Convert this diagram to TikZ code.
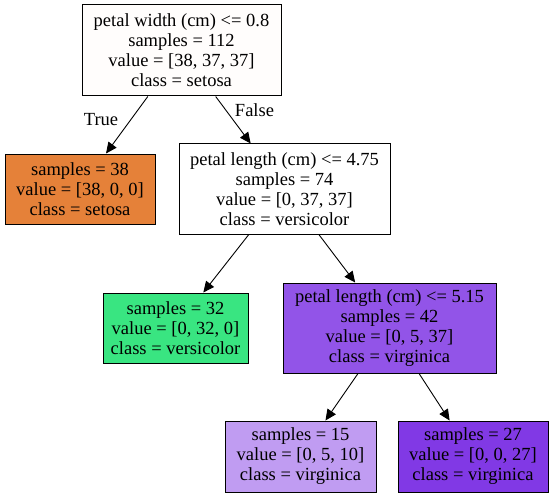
\documentclass[tikz,border=0pt]{standalone}
\usepackage{fontspec}
\setmainfont{Liberation Serif}
\usetikzlibrary{arrows.meta}
\definecolor{croot}{HTML}{FFFDFC}
\definecolor{csetosa}{HTML}{E58139}
\definecolor{cmid}{HTML}{FFFFFF}
\definecolor{cvers}{HTML}{39E581}
\definecolor{cvirgA}{HTML}{9254E8}
\definecolor{cvirgB}{HTML}{C09CF2}
\definecolor{cvirgC}{HTML}{8139E5}
\begin{document}
\begin{tikzpicture}[x=1pt,y=-1pt,
  box/.style={draw=black, line width=1pt, inner sep=0pt, align=center,
    font=\fontsize{18.5}{20}\selectfont},
  edge/.style={line width=0.9pt, -{Triangle[length=11pt,width=10pt]}},
  lbl/.style={font=\fontsize{18.5}{20}\selectfont, inner sep=0pt}]
\useasboundingbox (0,0) rectangle (553,497);
\node[box, fill=croot, minimum width=199pt, minimum height=91pt] (root) at (181.5,50.5)
  {petal width (cm) <= 0.8\\samples = 112\\value = [38, 37, 37]\\class = setosa};
\node[box, fill=csetosa, minimum width=150pt, minimum height=70pt] (setosa) at (80,189)
  {samples = 38\\value = [38, 0, 0]\\class = setosa};
\node[box, fill=cmid, minimum width=211pt, minimum height=90pt] (mid) at (284.5,189)
  {petal length (cm) <= 4.75\\samples = 74\\value = [0, 37, 37]\\class = versicolor};
\node[box, fill=cvers, minimum width=145pt, minimum height=70pt] (vers) at (175.5,328)
  {samples = 32\\value = [0, 32, 0]\\class = versicolor};
\node[box, fill=cvirgA, minimum width=213pt, minimum height=90pt] (virg) at (389.5,328)
  {petal length (cm) <= 5.15\\samples = 42\\value = [0, 5, 37]\\class = virginica};
\node[box, fill=cvirgB, minimum width=151pt, minimum height=71pt] (leafA) at (300.5,456.5)
  {samples = 15\\value = [0, 5, 10]\\class = virginica};
\node[box, fill=cvirgC, minimum width=150pt, minimum height=71pt] (leafB) at (473,456.5)
  {samples = 27\\value = [0, 0, 27]\\class = virginica};
\draw[edge] (root) -- (setosa);
\draw[edge] (root) -- (mid);
\draw[edge] (mid) -- (vers);
\draw[edge] (mid) -- (virg);
\draw[edge] (virg) -- (leafA);
\draw[edge] (virg) -- (leafB);
\node[lbl] (ltrue) at (101,120) {True};
\node[lbl] (lfalse) at (254.5,110) {False};
\end{tikzpicture}
\end{document}
